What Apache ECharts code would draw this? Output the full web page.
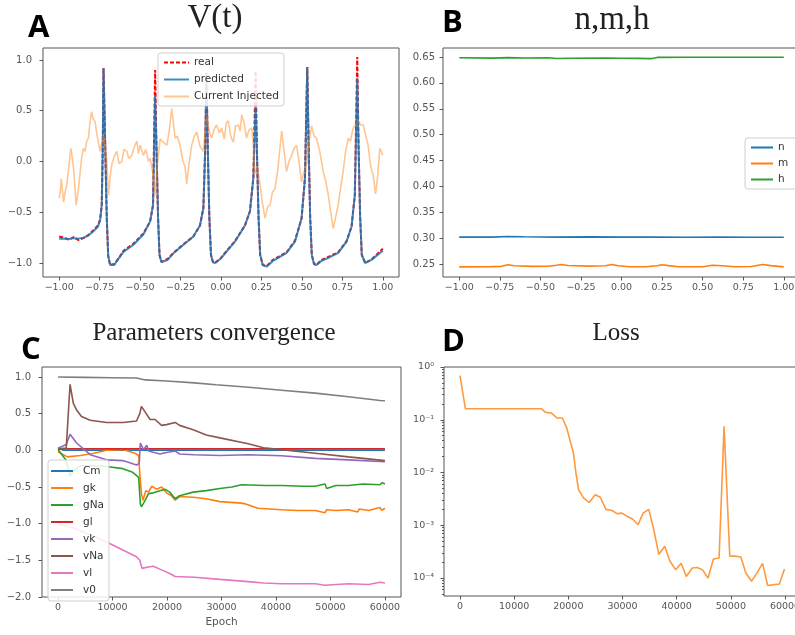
<!DOCTYPE html>
<html><head><meta charset="utf-8">
<script src="https://cdn.jsdelivr.net/npm/echarts@6/dist/echarts.min.js"></script>
<style>html,body{margin:0;padding:0;background:#fff}#c{width:795px;height:635px}</style>
</head><body><div id="c"></div>
<script>
// ---------- Panel A: V(t) ----------
const vT = [-1.000,-0.970,-0.940,-0.910,-0.880,-0.850,-0.820,-0.790,-0.760,-0.747,-0.737,-0.731,-0.726,-0.716,-0.706,-0.697,-0.685,-0.675,-0.660,-0.630,-0.603,-0.541,-0.480,-0.438,-0.420,-0.413,-0.407,-0.399,-0.389,-0.380,-0.368,-0.356,-0.330,-0.294,-0.232,-0.171,-0.130,-0.109,-0.098,-0.090,-0.082,-0.072,-0.062,-0.050,-0.037,0.000,0.025,0.086,0.148,0.179,0.200,0.214,0.222,0.232,0.242,0.258,0.282,0.320,0.354,0.405,0.457,0.498,0.519,0.533,0.541,0.551,0.561,0.575,0.590,0.620,0.663,0.724,0.776,0.807,0.827,0.842,0.850,0.860,0.870,0.891,0.930,0.960,1.000];
const vPred = [-0.76,-0.76,-0.765,-0.755,-0.76,-0.75,-0.73,-0.69,-0.64,-0.58,-0.43,0.10,0.92,0.20,-0.55,-0.93,-1.02,-1.035,-1.02,-0.95,-0.89,-0.82,-0.72,-0.59,-0.43,0.16,0.65,0.15,-0.55,-0.92,-0.99,-1.005,-0.97,-0.905,-0.82,-0.74,-0.63,-0.46,0.10,0.83,0.15,-0.55,-0.92,-0.99,-1.00,-0.955,-0.905,-0.79,-0.63,-0.49,-0.16,0.57,0.10,-0.55,-0.92,-1.02,-1.036,-0.98,-0.95,-0.90,-0.79,-0.56,-0.16,0.93,0.20,-0.55,-0.92,-1.01,-1.02,-0.98,-0.95,-0.90,-0.79,-0.64,-0.33,0.82,0.15,-0.55,-0.92,-1.00,-0.97,-0.93,-0.88];
const vReal = [-0.74,-0.75,-0.77,-0.745,-0.775,-0.755,-0.725,-0.68,-0.63,-0.57,-0.43,0.10,0.92,0.20,-0.55,-0.93,-1.02,-1.03,-1.01,-0.95,-0.88,-0.81,-0.71,-0.59,-0.43,0.30,0.90,0.15,-0.55,-0.92,-0.99,-1.00,-0.96,-0.90,-0.815,-0.74,-0.63,-0.46,0.10,0.88,0.15,-0.55,-0.92,-0.99,-1.00,-0.95,-0.90,-0.785,-0.63,-0.49,-0.16,0.89,0.10,-0.55,-0.92,-1.02,-1.03,-0.97,-0.94,-0.895,-0.78,-0.56,-0.16,0.93,0.20,-0.55,-0.92,-1.01,-1.02,-0.97,-0.94,-0.895,-0.785,-0.64,-0.33,1.03,0.15,-0.55,-0.92,-1.00,-0.965,-0.92,-0.86];
const currentInjected = [[-1.00,-0.36],[-0.993,-0.30],[-0.987,-0.17],[-0.98,-0.28],[-0.973,-0.40],[-0.963,-0.30],[-0.953,-0.23],[-0.94,-0.05],[-0.928,0.13],[-0.92,0.05],[-0.911,-0.07],[-0.903,-0.25],[-0.895,-0.43],[-0.883,-0.30],[-0.87,-0.10],[-0.86,0.05],[-0.85,0.13],[-0.84,0.10],[-0.83,0.20],[-0.819,0.23],[-0.81,0.38],[-0.80,0.49],[-0.79,0.42],[-0.778,0.39],[-0.765,0.25],[-0.747,0.10],[-0.736,0.18],[-0.726,0.26],[-0.716,0.12],[-0.706,0.03],[-0.695,-0.33],[-0.685,-0.15],[-0.675,-0.03],[-0.66,0.05],[-0.644,0.10],[-0.63,-0.02],[-0.613,0.00],[-0.60,0.12],[-0.582,0.10],[-0.57,0.03],[-0.551,0.06],[-0.535,0.15],[-0.52,0.20],[-0.51,0.08],[-0.50,0.16],[-0.479,0.06],[-0.465,0.12],[-0.448,0.00],[-0.438,0.03],[-0.428,0.03],[-0.418,-0.15],[-0.407,-0.33],[-0.397,-0.10],[-0.387,0.06],[-0.376,0.22],[-0.366,0.23],[-0.35,0.18],[-0.335,0.16],[-0.32,0.30],[-0.305,0.52],[-0.295,0.40],[-0.284,0.23],[-0.27,0.25],[-0.253,0.16],[-0.235,0.0],[-0.222,-0.05],[-0.212,-0.22],[-0.20,-0.05],[-0.181,0.16],[-0.165,0.25],[-0.15,0.29],[-0.13,0.15],[-0.109,0.10],[-0.098,0.30],[-0.088,0.45],[-0.073,0.30],[-0.058,0.23],[-0.042,0.32],[-0.027,0.36],[-0.01,0.28],[0.004,0.33],[0.02,0.22],[0.033,0.38],[0.045,0.40],[0.06,0.25],[0.076,0.19],[0.09,0.35],[0.107,0.36],[0.118,0.30],[0.128,0.46],[0.143,0.38],[0.158,0.23],[0.173,0.31],[0.19,0.33],[0.2,0.15],[0.21,-0.12],[0.225,-0.05],[0.241,-0.22],[0.255,-0.40],[0.272,-0.56],[0.288,-0.45],[0.303,-0.43],[0.318,-0.30],[0.333,-0.27],[0.35,-0.10],[0.362,0.10],[0.375,0.30],[0.39,0.10],[0.405,-0.10],[0.42,0.00],[0.436,0.06],[0.452,0.13],[0.467,0.16],[0.482,0.00],[0.498,-0.20],[0.513,-0.10],[0.529,-0.03],[0.545,0.20],[0.56,0.35],[0.575,0.25],[0.59,0.23],[0.61,0.10],[0.632,-0.10],[0.648,-0.20],[0.663,-0.33],[0.678,-0.50],[0.693,-0.66],[0.708,-0.55],[0.724,-0.43],[0.74,-0.25],[0.755,-0.10],[0.77,0.10],[0.786,0.23],[0.80,0.20],[0.817,0.33],[0.83,0.36],[0.848,0.40],[0.863,0.36],[0.879,0.36],[0.895,0.25],[0.909,0.16],[0.925,-0.05],[0.94,-0.13],[0.955,-0.32],[0.968,-0.15],[0.981,0.13],[0.99,0.10],[1.0,0.06]];
const timeTicks = [-1,-0.75,-0.5,-0.25,0,0.25,0.5,0.75,1];
const vTicks = [-1,-0.5,0,0.5,1];

// ---------- Panel B: n, m, h ----------
const nData = [[-1,0.302],[-0.8,0.302],[-0.7,0.3032],[-0.6,0.3026],[-0.4,0.302],[-0.2,0.3024],[0,0.302],[0.2,0.3021],[0.4,0.3016],[0.6,0.302],[0.8,0.3018],[1.0,0.3018]];
const mData = [[-1,0.2445],[-0.8,0.245],[-0.74,0.2455],[-0.70,0.2485],[-0.66,0.2465],[-0.55,0.2455],[-0.45,0.2458],[-0.40,0.2475],[-0.37,0.249],[-0.33,0.247],[-0.2,0.246],[-0.1,0.2465],[-0.06,0.249],[-0.02,0.2465],[0.05,0.2448],[0.15,0.2447],[0.22,0.2465],[0.25,0.2485],[0.29,0.2468],[0.35,0.2448],[0.5,0.2448],[0.56,0.2475],[0.62,0.2465],[0.7,0.2448],[0.8,0.2452],[0.87,0.249],[0.92,0.2468],[1.0,0.2445]];
const hData = [[-1,0.6485],[-0.8,0.6478],[-0.7,0.6488],[-0.6,0.6482],[-0.45,0.6485],[-0.4,0.6472],[-0.3,0.6475],[-0.1,0.6478],[0.0,0.6476],[0.1,0.6474],[0.18,0.6468],[0.22,0.6492],[0.4,0.6495],[0.6,0.6495],[0.8,0.6495],[1.0,0.6495]];
const gateTicks = [0.25,0.30,0.35,0.40,0.45,0.50,0.55,0.60,0.65];

// ---------- Panel C: parameters convergence ----------
const cmData = [[0,0.03],[1000,0.0],[60000,0.0]];
const gkData = [[0,-0.02],[1700,-0.09],[4100,-0.07],[6600,-0.04],[8900,0.0],[11900,0.01],[14100,-0.04],[14800,-0.07],[15000,-0.32],[15300,-0.59],[15600,-0.68],[16100,-0.55],[16600,-0.57],[17200,-0.49],[18100,-0.53],[19000,-0.50],[19900,-0.58],[20800,-0.62],[21500,-0.68],[22300,-0.63],[24800,-0.64],[27200,-0.66],[29700,-0.70],[33700,-0.72],[34300,-0.73],[36700,-0.79],[41000,-0.81],[44000,-0.82],[47200,-0.82],[49000,-0.85],[49300,-0.81],[51000,-0.82],[53300,-0.81],[55000,-0.84],[55300,-0.80],[57000,-0.82],[59100,-0.78],[59400,-0.82],[60000,-0.79]];
const gNaData = [[0,0.01],[1500,-0.14],[2200,-0.35],[2800,-0.28],[4100,-0.21],[6500,-0.21],[8900,-0.22],[11900,-0.25],[13700,-0.30],[14800,-0.37],[15100,-0.73],[15300,-0.77],[16000,-0.68],[16600,-0.59],[17500,-0.58],[18700,-0.55],[19600,-0.53],[20500,-0.57],[21500,-0.66],[22300,-0.62],[24800,-0.57],[27200,-0.55],[29700,-0.52],[31900,-0.50],[33700,-0.47],[38000,-0.48],[41000,-0.48],[45000,-0.49],[47200,-0.49],[49000,-0.46],[49300,-0.52],[51000,-0.48],[53300,-0.48],[56000,-0.46],[59100,-0.47],[59500,-0.44],[60000,-0.46]];
const glData = [[0,0.02],[60000,0.02]];
const vkData = [[0,0.03],[1500,0.08],[2200,0.22],[3400,0.10],[5900,-0.06],[8900,-0.13],[11900,-0.14],[14400,-0.20],[14900,-0.18],[15100,0.10],[15700,0.01],[16300,0.07],[16600,-0.01],[18700,-0.05],[19900,-0.03],[21500,-0.01],[22300,-0.05],[25000,-0.06],[29700,-0.07],[34900,-0.06],[41000,-0.075],[47200,-0.11],[53300,-0.13],[60000,-0.155]];
const vNaData = [[0,0.02],[1500,0.03],[2200,0.90],[2800,0.64],[3400,0.55],[4300,0.46],[5900,0.41],[8900,0.38],[11900,0.38],[14400,0.40],[15000,0.50],[15300,0.60],[16000,0.52],[16900,0.42],[17800,0.42],[19000,0.34],[19900,0.35],[21500,0.38],[22300,0.34],[24800,0.28],[27200,0.21],[29700,0.17],[34900,0.09],[37700,0.035],[41000,0.01],[47200,-0.04],[53300,-0.09],[60000,-0.14]];
const vlData = [[0,-1.0],[2800,-1.06],[5900,-1.15],[8900,-1.25],[11900,-1.36],[14400,-1.45],[15000,-1.50],[15400,-1.61],[16500,-1.59],[17500,-1.58],[19000,-1.63],[20500,-1.68],[21500,-1.72],[25000,-1.73],[29700,-1.76],[34900,-1.79],[37700,-1.81],[41000,-1.82],[47200,-1.82],[49000,-1.84],[53300,-1.82],[57000,-1.83],[59100,-1.80],[60000,-1.81]];
const v0Data = [[0,1.0],[5000,0.995],[10000,0.99],[14400,0.985],[16000,0.96],[19900,0.945],[25000,0.92],[29000,0.895],[35000,0.86],[41000,0.82],[47200,0.78],[53300,0.73],[59100,0.68],[60000,0.675]];
const paramTicks = [-2,-1.5,-1,-0.5,0,0.5,1];
const epochTicks = [0,10000,20000,30000,40000,50000,60000];

// ---------- Panel D: loss ----------
const lossData = [[0,0.685],[1000,0.162],[15000,0.162],[15800,0.138],[16900,0.134],[17900,0.108],[18900,0.108],[19700,0.070],[20450,0.036],[20950,0.0234],[21400,0.0098],[21900,0.0047],[22800,0.0033],[23850,0.0027],[24960,0.0038],[25900,0.0034],[26940,0.0020],[28050,0.0019],[28980,0.00166],[29900,0.0017],[30800,0.0015],[31900,0.0013],[32870,0.00102],[33800,0.0017],[34850,0.0020],[35780,0.00082],[36700,0.00028],[37800,0.00040],[38740,0.00021],[39800,0.000144],[40840,0.000191],[41770,0.000107],[42880,0.000155],[43800,0.000158],[44740,0.000144],[45790,0.0001],[46780,0.00023],[47830,0.00024],[48750,0.075],[49800,0.00026],[50730,0.00026],[51840,0.00025],[52770,0.000124],[53820,0.000087],[54800,0.000124],[55860,0.00019],[56790,0.000072],[57700,0.000074],[58950,0.000077],[59900,0.000148]];
const lossTicks = [1e-4,1e-3,1e-2,1e-1,1];
const lossMinorTicks = [5e-5,6e-5,7e-5,8e-5,9e-5,2e-4,3e-4,4e-4,5e-4,6e-4,7e-4,8e-4,9e-4,2e-3,3e-3,4e-3,5e-3,6e-3,7e-3,8e-3,9e-3,2e-2,3e-2,4e-2,5e-2,6e-2,7e-2,8e-2,9e-2,0.2,0.3,0.4,0.5,0.6,0.7,0.8,0.9];

// ---------- helpers ----------
const AX = '#555';
const minus = s => s.replace('-', '\u2212');
const fixed = d => v => minus(Number(v).toFixed(d));
const sup = {'0':'\u2070','1':'\u00b9','2':'\u00b2','3':'\u00b3','4':'\u2074','-':'\u207b'};
const logFmt = v => '10' + String(Math.round(Math.log10(v))).split('').map(c => sup[c]).join('');

function axis(gi, type, min, max, ticks, fmt, fontSize, margin, extra) {
  return Object.assign({
    type, gridIndex: gi, min, max,
    axisLine: {show: false, onZero: false}, splitLine: {show: false},
    axisTick: {show: true, inside: false, length: 3.5, lineStyle: {color: AX, width: 1}, customValues: ticks},
    axisLabel: {customValues: ticks, formatter: fmt, color: '#555', fontSize, margin, fontFamily: 'DejaVu Sans'}
  }, extra || {});
}
function line(name, xi, data, color, width, extra) {
  return Object.assign({
    name, type: 'line', xAxisIndex: xi, yAxisIndex: xi, data,
    symbol: 'none', showSymbol: false, animation: false,
    lineStyle: {color, width}, itemStyle: {color}
  }, extra || {});
}
const gridStyle = {show: true, borderColor: AX, borderWidth: 1, backgroundColor: 'transparent', containLabel: false, outerBoundsMode: 'none'};
const legendBase = {orient: 'vertical', borderColor: '#cfcfcf', borderWidth: 1, borderRadius: 3,
  itemStyle: {opacity: 0, borderWidth: 0},
  backgroundColor: 'rgba(255,255,255,0.85)', textStyle: {fontSize: 10.5, color: '#333', fontFamily: 'DejaVu Sans'}};

const tab = {blue:'#1f77b4', orange:'#ff7f0e', green:'#2ca02c', red:'#d62728', purple:'#9467bd', brown:'#8c564b', pink:'#e377c2', gray:'#7f7f7f'};

const option = {
  animation: false,
  backgroundColor: '#fff',
  grid: [
    Object.assign({left: 43, top: 48, width: 356, height: 229}, gridStyle),
    Object.assign({left: 443, top: 48, width: 357, height: 229}, gridStyle),
    Object.assign({left: 42, top: 367, width: 359, height: 230}, gridStyle),
    Object.assign({left: 444, top: 367, width: 357, height: 229}, gridStyle)
  ],
  xAxis: [
    axis(0, 'value', -1.1, 1.1, timeTicks, fixed(2), 9.5, 6, {position: 'bottom'}),
    axis(1, 'value', -1.1, 1.1, timeTicks, fixed(2), 9.5, 6, {position: 'bottom'}),
    axis(2, 'value', -2950, 62950, epochTicks, v => String(v), 9.5, 6,
      {position: 'bottom', name: 'Epoch', nameLocation: 'middle', nameGap: 20, nameTextStyle: {color: '#555', fontSize: 10.5, fontFamily: 'DejaVu Sans', verticalAlign: 'top'}}),
    axis(3, 'value', -2950, 62950, epochTicks, v => String(v), 9.5, 6, {position: 'bottom'})
  ],
  yAxis: [
    axis(0, 'value', -1.138, 1.118, vTicks, fixed(1), 10, 11, {position: 'left'}),
    axis(1, 'value', 0.2249, 0.6674, gateTicks, fixed(2), 10, 8, {position: 'left'}),
    axis(2, 'value', -2.0, 1.136, paramTicks, fixed(1), 10, 11, {position: 'left'}),
    axis(3, 'log', 4.56e-5, 1, lossTicks, logFmt, 9.5, 10, {logBase: 10, position: 'left'}),
    {type: 'log', logBase: 10, gridIndex: 3, min: 4.56e-5, max: 1, position: 'left', offset: 0,
      axisLine: {show: false, onZero: false}, splitLine: {show: false}, axisLabel: {show: false},
      axisTick: {show: true, inside: false, length: 2, lineStyle: {color: AX, width: 1}, customValues: lossMinorTicks}}
  ],
  legend: [
    Object.assign({}, legendBase, {data: ['real', 'predicted', 'Current Injected'], left: 158, top: 53, itemWidth: 25, itemHeight: 10, itemGap: 6, padding: [4, 5, 4, 5]}),
    Object.assign({}, legendBase, {data: ['n', 'm', 'h'], left: 745, top: 138, itemWidth: 22, itemHeight: 10, itemGap: 5, padding: [4, 20, 4, 5]}),
    Object.assign({}, legendBase, {data: ['Cm', 'gk', 'gNa', 'gl', 'vk', 'vNa', 'vl', 'v0'], left: 48, top: 460, itemWidth: 22, itemHeight: 10, itemGap: 6, padding: [5.5, 5, 5.5, 2],
      textStyle: {fontSize: 10.5, color: '#333', fontFamily: 'DejaVu Sans', padding: [0, 0, 0, 5]}})
  ],
  series: [
    {name: 'real', type: 'line', xAxisIndex: 0, yAxisIndex: 0, data: vT.map((t, i) => [t, vReal[i]]),
      symbol: 'none', showSymbol: false, lineStyle: {color: '#ff0000', width: 2, type: [4, 2]}, itemStyle: {color: '#ff0000'}},
    {name: 'predicted', type: 'line', xAxisIndex: 0, yAxisIndex: 0, data: vT.map((t, i) => [t, vPred[i]]),
      symbol: 'none', showSymbol: false, lineStyle: {color: tab.blue, width: 2, opacity: 0.85}, itemStyle: {color: tab.blue}},
    {name: 'Current Injected', type: 'line', xAxisIndex: 0, yAxisIndex: 0, data: currentInjected,
      symbol: 'none', showSymbol: false, lineStyle: {color: tab.orange, width: 1.6, opacity: 0.45}, itemStyle: {color: tab.orange, opacity: 0.45}},
    line('n', 1, nData, tab.blue, 1.6),
    line('m', 1, mData, tab.orange, 1.6),
    line('h', 1, hData, tab.green, 1.6),
    line('Cm', 2, cmData, tab.blue, 1.6),
    line('gk', 2, gkData, tab.orange, 1.6),
    line('gNa', 2, gNaData, tab.green, 1.6),
    line('gl', 2, glData, tab.red, 1.6),
    line('vk', 2, vkData, tab.purple, 1.6),
    line('vNa', 2, vNaData, tab.brown, 1.6),
    line('vl', 2, vlData, tab.pink, 1.6),
    line('v0', 2, v0Data, tab.gray, 1.6),
    line('Loss', 3, lossData, tab.orange, 1.6, {lineStyle: {color: tab.orange, width: 1.6, opacity: 0.8}})
  ],
  graphic: [
    {type: 'text', x: 215, y: 18, style: {text: 'V(t)', font: '33px "Liberation Serif"', fill: '#222', align: 'center', verticalAlign: 'middle'}},
    {type: 'text', x: 612, y: 20, style: {text: 'n,m,h', font: '33px "Liberation Serif"', fill: '#222', align: 'center', verticalAlign: 'middle'}},
    {type: 'text', x: 214, y: 333.5, style: {text: 'Parameters convergence', font: '25px "Liberation Serif"', fill: '#222', align: 'center', verticalAlign: 'middle'}},
    {type: 'text', x: 616, y: 333, style: {text: 'Loss', font: '25px "Liberation Serif"', fill: '#222', align: 'center', verticalAlign: 'middle'}},
    {type: 'text', x: 28, y: 28.5, style: {text: 'A', font: 'bold 31px "Open Sans"', fill: '#000', align: 'left', verticalAlign: 'middle'}},
    {type: 'text', x: 442, y: 23, style: {text: 'B', font: 'bold 31px "Open Sans"', fill: '#000', align: 'left', verticalAlign: 'middle'}},
    {type: 'text', x: 21, y: 350, style: {text: 'C', font: 'bold 31px "Open Sans"', fill: '#000', align: 'left', verticalAlign: 'middle'}},
    {type: 'text', x: 442, y: 342.5, style: {text: 'D', font: 'bold 31px "Open Sans"', fill: '#000', align: 'left', verticalAlign: 'middle'}}
  ]
};
const chart = echarts.init(document.getElementById('c'), null, {renderer: 'canvas', width: 795, height: 635});
chart.setOption(option);
</script>
</body></html>
